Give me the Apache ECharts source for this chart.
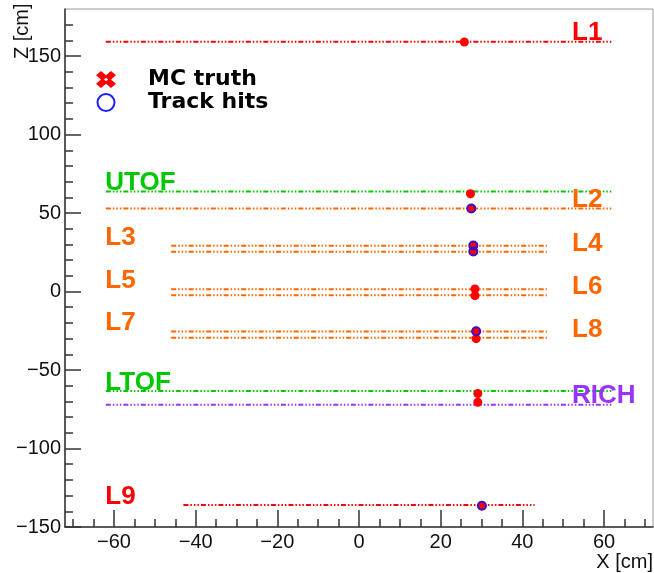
<!DOCTYPE html>
<html>
<head>
<meta charset="utf-8">
<script src="https://cdn.jsdelivr.net/npm/echarts@6/dist/echarts.min.js"></script>
<style>
  html, body { margin: 0; padding: 0; background: #fff; }
  #chart { width: 654px; height: 573px; }
</style>
</head>
<body>
<div id="chart"></div>
<script>
// Detector layers: name, z position and half-width along X (cm)
const layerNames = ['L1', 'UTOF', 'L2', 'L3', 'L4', 'L5', 'L6', 'L7', 'L8', 'LTOF', 'RICH', 'L9'];
const layerZ = [159.2, 63.8, 52.9, 29.1, 25.3, 1.5, -2.3, -25.5, -29.5, -63.3, -72.1, -136.0];
const layerHalfWidth = [62, 62, 62, 46, 46, 46, 46, 46, 46, 62, 62, 43];
const layerColor = ['#ff0000', '#00c800', '#ff6600', '#ff6600', '#ff6600', '#ff6600', '#ff6600',
                    '#ff6600', '#ff6600', '#00c800', '#9933ff', '#ff0000'];
// Label anchor along X (text drawn from here, sitting on the layer line)
const labelX = [52.3, -62, 52.3, -62, 52.3, -62, 52.3, -62, 52.3, -62, 52.3, -62];

// Monte Carlo truth crossing points (X, Z)
const truthX = [25.8, 27.3, 27.5, 28.0, 28.0, 28.4, 28.4, 28.7, 28.7, 29.1, 29.1, 30.1];
const truthZ = [159.0, 62.3, 52.9, 29.3, 25.5, 1.7, -2.6, -25.3, -30.0, -65.0, -70.5, -136.5];

// Reconstructed track hits (X, Z)
const hitX = [27.5, 28.0, 28.0, 28.7, 30.1];
const hitZ = [52.9, 29.3, 25.5, -25.3, -136.5];

// Axis ticks
const xMajor = [-60, -40, -20, 0, 20, 40, 60];
const xMinor = [-70, -65, -55, -50, -45, -35, -30, -25, -15, -10, -5, 5, 10, 15, 25, 30, 35, 45, 50, 55, 65, 70];
const yMajor = [-150, -100, -50, 0, 50, 100, 150];
const yMinor = [-140, -130, -120, -110, -90, -80, -70, -60, -40, -30, -20, -10,
                10, 20, 30, 40, 60, 70, 80, 90, 110, 120, 130, 140, 160, 170];

const X_MIN = -72, X_MAX = 72, Z_MIN = -150, Z_MAX = 180;
const dashDot = [5, 2, 1.5, 2, 1.5, 2, 1.5, 2];
const minus = v => String(v).replace('-', '\u2212');
const tickFont = { fontFamily: '"Liberation Sans", Arial, sans-serif', fontSize: 20, color: '#111' };

const chart = echarts.init(document.getElementById('chart'), null, { renderer: 'canvas' });

const series = [];
layerNames.forEach((name, i) => {
  series.push({
    type: 'line',
    name: name + ' plane',
    silent: true,
    symbol: 'none',
    z: 2,
    lineStyle: { color: layerColor[i], width: 2, type: dashDot, opacity: 1 },
    data: [[-layerHalfWidth[i], layerZ[i]], [layerHalfWidth[i], layerZ[i]]]
  });
});

series.push({
  type: 'scatter',
  name: 'layer labels',
  silent: true,
  symbolSize: 1,
  itemStyle: { color: 'transparent', opacity: 1 },
  z: 3,
  data: layerNames.map((name, i) => ({
    name: name,
    value: [labelX[i], layerZ[i]],
    label: { color: layerColor[i] }
  })),
  label: {
    show: true,
    formatter: p => p.name,
    position: [0, 0],
    align: 'left',
    verticalAlign: 'bottom',
    offset: [0, 5],
    opacity: 1,
    fontFamily: '"Liberation Sans", Arial, sans-serif',
    fontWeight: 'bold',
    fontSize: 26
  }
});

series.push({
  type: 'scatter',
  name: 'MC truth',
  symbol: 'circle',
  symbolSize: 9,
  z: 4,
  itemStyle: { color: '#ff0000', opacity: 1 },
  data: truthX.map((x, i) => [x, truthZ[i]])
});

series.push({
  type: 'scatter',
  name: 'Track hits',
  symbol: 'circle',
  symbolSize: 8,
  z: 5,
  itemStyle: { color: 'transparent', borderColor: '#3a0fc8', borderWidth: 2, opacity: 1 },
  data: hitX.map((x, i) => [x, hitZ[i]])
});

// Chunky X with a small hollow centre
const crossIcon = 'path://M0,4 L4,0 L8,4 L12,0 L16,4 L12,8 L16,12 L12,16 L8,12 L4,16 L0,12 L4,8 Z ' +
                  'M8,6.3 L6.3,8 L8,9.7 L9.7,8 Z';

const option = {
  animation: false,
  backgroundColor: '#ffffff',
  grid: {
    left: 65, right: 1, top: 9, bottom: 46,
    show: true, borderColor: '#9a9a9a', borderWidth: 1, backgroundColor: 'transparent'
  },
  legend: {
    orient: 'vertical',
    left: 96, top: 68,
    padding: 0,
    itemGap: 0,
    itemWidth: 20, itemHeight: 17,
    symbolKeepAspect: false,
    selectedMode: false,
    textStyle: {
      fontFamily: '"DejaVu Sans", sans-serif',
      fontWeight: 'bold',
      fontSize: 22,
      lineHeight: 23,
      color: '#000',
      padding: [0, 0, 0, 27]
    },
    data: [
      { name: 'MC truth', icon: crossIcon, itemStyle: { color: '#ff0000', opacity: 1 } },
      { name: 'Track hits', icon: 'circle',
        itemStyle: { color: 'transparent', borderColor: '#1f1fff', borderWidth: 2, opacity: 1 } }
    ]
  },
  xAxis: [
    {
      type: 'value', min: X_MIN, max: X_MAX, position: 'bottom',
      splitLine: { show: false },
      axisLine: { show: true, onZero: false, lineStyle: { color: '#333', width: 1.5 } },
      axisTick: { show: true, inside: true, length: 17, customValues: xMajor,
                  lineStyle: { color: '#333', width: 1.5 } },
      axisLabel: Object.assign({ customValues: xMajor, margin: 5, formatter: minus }, tickFont)
    },
    {
      type: 'value', min: X_MIN, max: X_MAX, position: 'bottom',
      splitLine: { show: false },
      axisLine: { show: false, onZero: false },
      axisTick: { show: true, inside: true, length: 8, customValues: xMinor,
                  lineStyle: { color: '#333', width: 1.5 } },
      axisLabel: { show: false }
    }
  ],
  yAxis: [
    {
      type: 'value', min: Z_MIN, max: Z_MAX, position: 'left',
      splitLine: { show: false },
      axisLine: { show: true, onZero: false, lineStyle: { color: '#333', width: 1.5 } },
      axisTick: { show: true, inside: true, length: 16, customValues: yMajor,
                  lineStyle: { color: '#333', width: 1.5 } },
      axisLabel: Object.assign({ customValues: yMajor, margin: 4, formatter: minus }, tickFont)
    },
    {
      type: 'value', min: Z_MIN, max: Z_MAX, position: 'left',
      splitLine: { show: false },
      axisLine: { show: false, onZero: false },
      axisTick: { show: true, inside: true, length: 8, customValues: yMinor,
                  lineStyle: { color: '#333', width: 1.5 } },
      axisLabel: { show: false }
    }
  ],
  graphic: [
    {
      type: 'text', x: 22, y: 59, rotation: Math.PI / 2,
      style: { text: 'Z [cm]', fill: '#111', textAlign: 'left', textVerticalAlign: 'middle',
               font: '20px "Liberation Sans", Arial, sans-serif' }
    },
    {
      type: 'text', x: 653, y: 562,
      style: { text: 'X [cm]', fill: '#111', textAlign: 'right', textVerticalAlign: 'middle',
               font: '20px "Liberation Sans", Arial, sans-serif' }
    }
  ],
  series: series
};

chart.setOption(option);
</script>
</body>
</html>
